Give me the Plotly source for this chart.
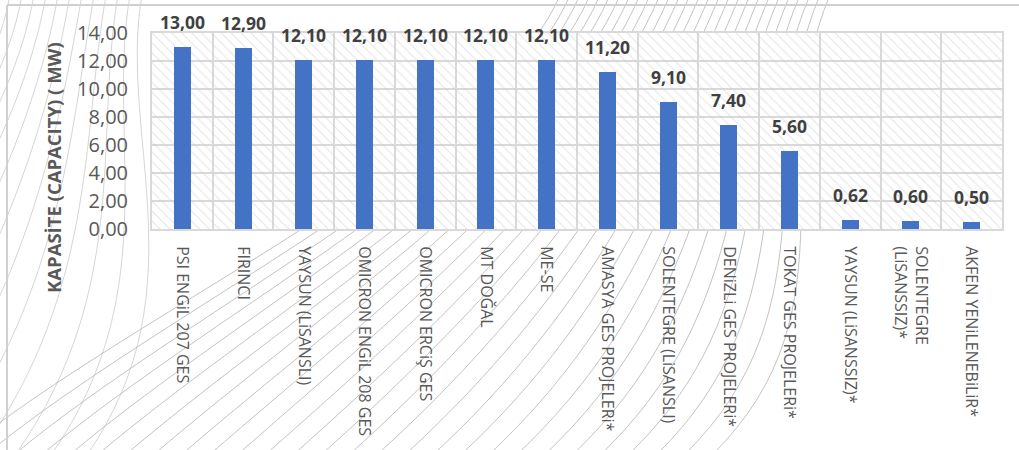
import plotly.graph_objects as go

categories = [
    "PSI ENGiL 207 GES", "FIRINCI", "YAYSUN (LiSANSLI)", "OMICRON ENGiL 208 GES",
    "OMICRON ERCiŞ GES", "MT DOĞAL", "ME-SE", "AMASYA GES PROJELERi*",
    "SOLENTEGRE (LiSANSLI)", "DENiZLi GES PROJELERi*", "TOKAT GES PROJELERi*",
    "YAYSUN (LiSANSSIZ)*", "SOLENTEGRE<br>(LiSANSSIZ)*", "AKFEN YENiLENEBiLiR*",
]
capacity_mw = [13.00, 12.90, 12.10, 12.10, 12.10, 12.10, 12.10, 11.20, 9.10, 7.40, 5.60, 0.62, 0.60, 0.50]
y_ticks = [0, 2, 4, 6, 8, 10, 12, 14]
y_tick_labels = ["0,00", "2,00", "4,00", "6,00", "8,00", "10,00", "12,00", "14,00"]
y_title = "KAPASİTE (CAPACITY) ( MW)"

W, H = 1019, 450
ML, MR, MT, MB = 152, 17, 33, 221
PW, PH = W - ML - MR, H - MT - MB


def px2paper(px, py):
    return (px - ML) / PW, (H - MB - py) / PH


fig = go.Figure()

# hatched plot-area background (one cell per category)
fig.add_trace(go.Bar(
    x=categories, y=[max(y_ticks)] * len(categories), width=1,
    marker=dict(color="rgba(0,0,0,0)", line=dict(width=0),
                pattern=dict(shape="\\", fgcolor="#cccccc", bgcolor="rgba(0,0,0,0)",
                             size=7, solidity=0.17)),
    hoverinfo="skip", showlegend=False,
))

fig.add_trace(go.Bar(
    x=categories, y=capacity_mw, width=0.28,
    marker=dict(color="#4472C4", line=dict(width=0)),
    showlegend=False,
))

annotations = []
for c, v in zip(categories, capacity_mw):
    annotations.append(dict(
        x=c, y=v, xref="x", yref="y", text=f"{v:.2f}".replace(".", ","),
        showarrow=False, yanchor="bottom", yshift=11,
        font=dict(family="Open Sans", size=17.5, color="#404040", weight="bold"),
    ))

tx, ty = px2paper(53, 168)
annotations.append(dict(
    x=tx, y=ty, xref="paper", yref="paper", text=y_title, textangle=-90,
    showarrow=False, xanchor="center", yanchor="middle",
    font=dict(family="Open Sans", size=18.5, color="#595959", weight="bold"),
))

# decorative background curves
shapes = []
def curve(p0, p1, p2, p3, color):
    pts = [px2paper(*p) for p in (p0, p1, p2, p3)]
    path = "M {:.4f},{:.4f} C {:.4f},{:.4f} {:.4f},{:.4f} {:.4f},{:.4f}".format(
        pts[0][0], pts[0][1], pts[1][0], pts[1][1], pts[2][0], pts[2][1], pts[3][0], pts[3][1])
    return dict(type="path", path=path, xref="paper", yref="paper", layer="below",
                line=dict(color=color, width=1))

for i in range(12):
    sx = -320 + i * 36
    ex = 10 + i * 12
    shapes.append(curve((sx, 470), (sx + 130, 300), (ex - 25, 140), (ex, -5), "rgba(195,195,195,0.7)"))

for i in range(28):
    sx = -60 + i * 28
    ex = 560 + i * 10
    shapes.append(curve((sx, 470), (sx + 170, 320), (ex - 70, 160), (ex, -5), "rgba(175,175,175,0.75)"))

# white plot area covering curves
x0, y0 = px2paper(ML, H - MB)
x1, y1 = px2paper(W - MR, MT)
shapes.append(dict(type="rect", xref="paper", yref="paper", x0=x0, y0=y0, x1=x1, y1=y1,
                   layer="below", fillcolor="white", line=dict(width=0)))

# outer chart frame (top and left edges)
lx, ty0 = px2paper(7, 5)
rx, by0 = px2paper(W, H)
shapes.append(dict(type="line", xref="paper", yref="paper", x0=lx, y0=ty0, x1=rx, y1=ty0,
                   layer="above", line=dict(color="#d0d0d0", width=2)))
shapes.append(dict(type="line", xref="paper", yref="paper", x0=lx, y0=ty0, x1=lx, y1=by0,
                   layer="above", line=dict(color="#d0d0d0", width=2)))

fig.update_layout(
    width=W, height=H,
    margin=dict(l=ML, r=MR, t=MT, b=MB, pad=0),
    paper_bgcolor="white", plot_bgcolor="white",
    barmode="overlay", bargap=0,
    annotations=annotations, shapes=shapes,
    font=dict(family="Open Sans", color="#595959"),
)
fig.update_xaxes(
    type="category", tickson="boundaries", tickangle=90,
    showgrid=True, gridcolor="#d9d9d9", gridwidth=1.5,
    showline=True, linecolor="#d9d9d9", linewidth=2, mirror=True,
    ticks="", ticklabelstandoff=12,
    tickfont=dict(family="Open Sans", size=16, color="#595959"),
    range=[-0.5, len(categories) - 0.5],
)
fig.update_yaxes(
    range=[0, 14], tickvals=y_ticks, ticktext=y_tick_labels,
    showgrid=True, gridcolor="#d9d9d9", gridwidth=1.5, zeroline=False,
    showline=True, linecolor="#d9d9d9", linewidth=2, mirror=True,
    ticks="outside", ticklen=18, tickcolor="rgba(0,0,0,0)",
    tickfont=dict(family="Open Sans", size=20, color="#595959"),
)

fig.write_html("out.html", config={"displayModeBar": False},
               post_script="document.body.style.margin='0';document.body.style.overflow='hidden';")
